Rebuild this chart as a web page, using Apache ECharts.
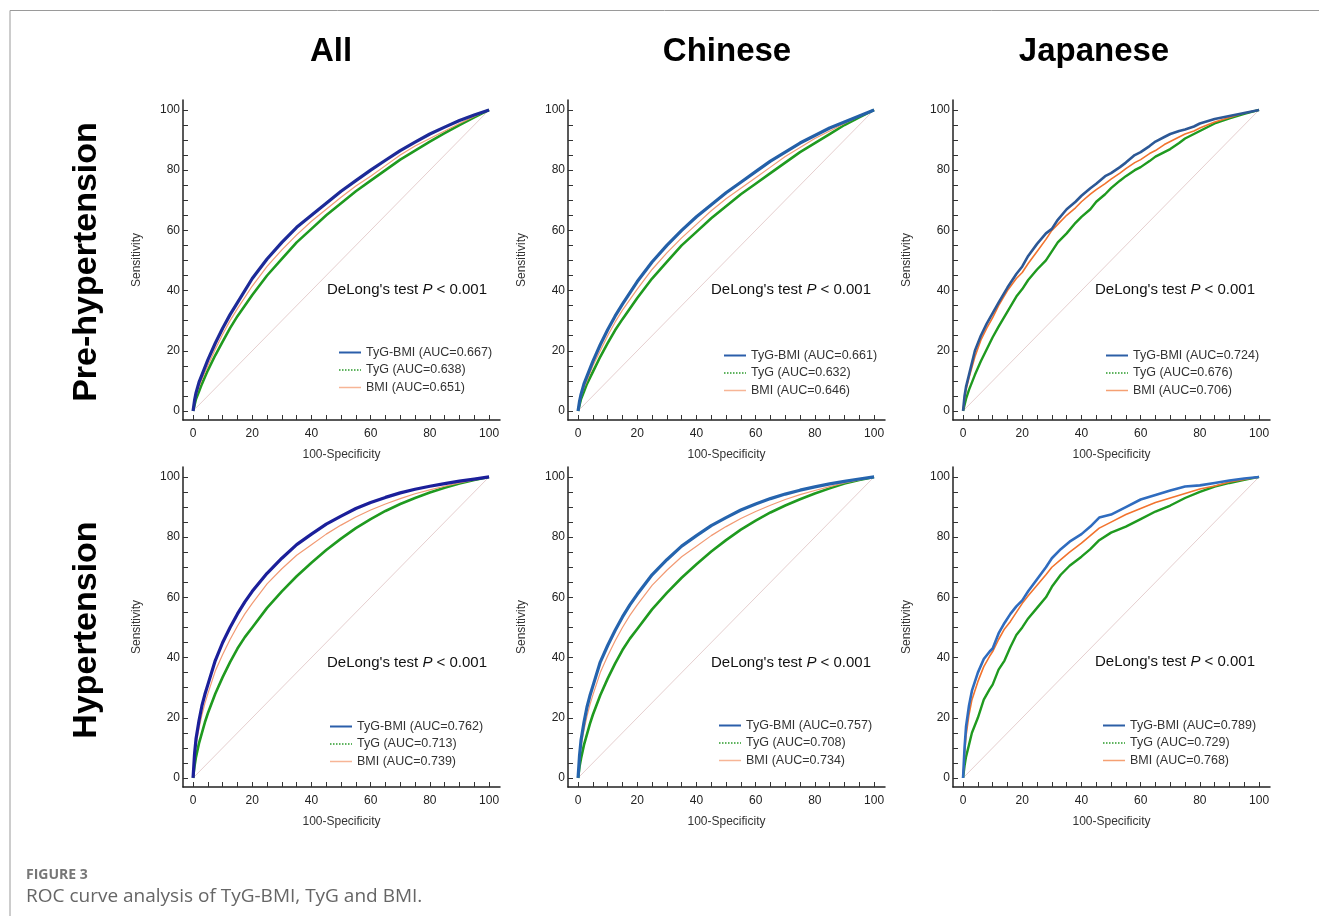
<!DOCTYPE html>
<html>
<head>
<meta charset="utf-8" />
<title>ROC curves</title>
<script src="https://cdn.jsdelivr.net/npm/echarts@6.0.0/dist/echarts.min.js"></script>
<style>
  html, body { margin: 0; padding: 0; background: #fff; }
  #main { width: 1319px; height: 916px; }
</style>
</head>
<body>
<div id="main"></div>
<script type="text/javascript">
// ---- labels ----
var columns = ['All', 'Chinese', 'Japanese'];
var rows = ['Pre-hypertension', 'Hypertension'];
var markers = ['TyG-BMI', 'TyG', 'BMI'];
var aucPre = [[0.667, 0.638, 0.651], [0.661, 0.632, 0.646], [0.724, 0.676, 0.706]];
var aucHyp = [[0.762, 0.713, 0.739], [0.757, 0.708, 0.734], [0.789, 0.729, 0.768]];
var labelTicks = [0, 20, 40, 60, 80, 100];
var minorTicks = [0, 5, 10, 15, 20, 25, 30, 35, 40, 45, 50, 55, 60, 65, 70, 75, 80, 85, 90, 95, 100];
var diagonal = [[0, 0], [100, 100]];

// ---- ROC curves, [100-specificity, sensitivity] ----
var allPreTygBmi = [[0,0],[0.5,3.5],[1,6],[2,9.5],[3,12],[4,14.5],[5,17],[7.5,22.5],[10,27.5],[12.5,32],[15,36],[20,44],[25,50.5],[30,56],[35,61],[40,65],[45,69],[50,73],[55,76.5],[60,80],[65,83.3],[70,86.5],[75,89.3],[80,92],[85,94.3],[90,96.5],[95,98.3],[100,100]];
var allPreTyg = [[0,0],[0.5,2],[1,4],[2,6.5],[3,9],[4,11.3],[5,13.5],[7.5,18.5],[10,23],[12.5,27.5],[15,31.5],[20,38.5],[25,45],[30,50.5],[35,56],[40,60.5],[45,65],[50,69],[55,73],[60,76.5],[65,80],[70,83.5],[75,86.5],[80,89.5],[85,92.3],[90,95],[95,97.5],[100,100]];
var allPreBmi = [[0,0],[0.5,2.8],[1,5],[2,8],[3,10.5],[4,12.8],[5,15],[7.5,20.5],[10,25.5],[12.5,30],[15,34],[20,41.5],[25,48],[30,53.5],[35,58.5],[40,63],[45,67],[50,71],[55,74.7],[60,78],[65,81.5],[70,85],[75,88],[80,90.5],[85,93],[90,95.5],[95,97.8],[100,100]];

var chnPreTygBmi = [[0,0],[0.5,3.2],[1,5.5],[2,9],[3,11.5],[4,14],[5,16.5],[7.5,22],[10,27],[12.5,31.5],[15,35.5],[20,43],[25,49.5],[30,55],[35,60],[40,64.5],[45,68.5],[50,72.5],[55,76],[60,79.5],[65,83],[70,86],[75,89],[80,91.5],[85,94],[90,96],[95,98],[100,100]];
var chnPreTyg = [[0,0],[0.5,2],[1,4],[2,6.5],[3,9],[4,11],[5,13],[7.5,18],[10,22.5],[12.5,26.8],[15,30.5],[20,37.5],[25,44],[30,49.5],[35,55],[40,59.5],[45,64],[50,68],[55,72],[60,75.5],[65,79],[70,82.5],[75,86],[80,89],[85,92],[90,95],[95,97.5],[100,100]];
var chnPreBmi = [[0,0],[0.5,2.8],[1,5],[2,7.8],[3,10],[4,12.5],[5,15],[7.5,20],[10,25],[12.5,29.5],[15,33.5],[20,40.5],[25,47],[30,52.5],[35,57.5],[40,62],[45,66.5],[50,70.5],[55,74],[60,77.5],[65,81],[70,84.5],[75,87.5],[80,90.5],[85,93],[90,95.5],[95,97.8],[100,100]];

var jpnPreTygBmi = [[0,0],[0.5,5],[1,8],[2,12],[4,20],[6,25],[8,29],[10,32.5],[12,36],[15,41],[18,45.5],[20,48],[22,51.5],[25,55.5],[28,59],[30,60.5],[32,63.5],[35,67],[38,69.5],[40,71.5],[43,74],[45,75.5],[48,78],[50,79],[53,81],[55,82.5],[58,85],[60,86],[63,88],[65,89.5],[68,91],[70,92],[73,93],[75,93.5],[78,94.5],[80,95.5],[85,97],[90,98],[95,99],[100,100]];
var jpnPreTyg = [[0,0],[0.5,2],[1,4],[2,7],[4,12],[6,16.5],[8,20.5],[10,24.5],[12,28],[15,33],[18,38],[20,40.5],[22,43.5],[25,47],[28,50],[30,53],[32,56],[35,59],[38,62.5],[40,64.5],[43,67],[45,69.5],[48,72],[50,74],[53,76.5],[55,78],[58,80],[60,81],[63,83],[65,84.5],[68,86],[70,87],[73,89],[75,90.5],[78,92],[80,93],[85,95.5],[90,97.2],[95,98.7],[100,100]];
var jpnPreBmi = [[0,0],[0.5,4],[1,7],[2,11],[4,18],[6,23.5],[8,27.5],[10,31],[12,35],[15,40],[18,44],[20,46],[22,49],[25,53],[28,57],[30,60],[32,62],[35,65],[38,67.5],[40,69.5],[43,72],[45,73.5],[48,75.5],[50,77],[53,79],[55,80.5],[58,82.5],[60,83.5],[63,85.5],[65,86.5],[68,88.5],[70,89.5],[73,91],[75,92],[78,93],[80,94],[85,96],[90,97.5],[95,99],[100,100]];

var allHypTygBmi = [[0,0],[0.5,8],[1,13],[2,19],[3,24],[4,27.8],[5,31],[7.5,39],[10,45],[12.5,50],[15,54.5],[17.5,58.5],[20,62],[25,68],[30,73],[35,77.5],[40,81],[45,84.3],[50,87],[55,89.5],[60,91.5],[65,93.2],[70,94.7],[75,95.9],[80,96.9],[85,97.8],[90,98.6],[95,99.3],[100,100]];
var allHypTyg = [[0,0],[0.5,4],[1,7],[2,11.5],[3,15],[4,18.5],[5,21.5],[7.5,28],[10,33.5],[12.5,38.5],[15,43],[17.5,46.8],[20,50],[25,56.5],[30,62],[35,67],[40,71.5],[45,75.7],[50,79.5],[55,83],[60,86],[65,88.7],[70,91],[75,93],[80,94.8],[85,96.4],[90,97.8],[95,99],[100,100]];
var allHypBmi = [[0,0],[0.5,6.5],[1,11],[2,16.5],[3,21],[4,24.8],[5,28],[7.5,35.5],[10,41],[12.5,46],[15,50.5],[17.5,54.5],[20,58],[25,64.5],[30,69.5],[35,74],[40,77.5],[45,81],[50,84],[55,86.7],[60,89],[65,91],[70,92.8],[75,94.4],[80,95.7],[85,96.9],[90,98],[95,99],[100,100]];

var chnHypTygBmi = [[0,0],[0.5,7.5],[1,12.5],[2,18.5],[3,23.5],[4,27.3],[5,30.5],[7.5,38.5],[10,44],[12.5,49],[15,53.5],[17.5,57.5],[20,61],[25,67.5],[30,72.5],[35,77],[40,80.5],[45,83.8],[50,86.5],[55,89],[60,91],[65,92.8],[70,94.3],[75,95.6],[80,96.7],[85,97.7],[90,98.5],[95,99.3],[100,100]];
var chnHypTyg = [[0,0],[0.5,3.8],[1,6.5],[2,11],[3,14.5],[4,18],[5,21],[7.5,27.5],[10,33],[12.5,38],[15,42.5],[17.5,46.3],[20,49.5],[25,56],[30,61.5],[35,66.5],[40,71],[45,75.2],[50,79],[55,82.5],[60,85.5],[65,88.2],[70,90.5],[75,92.6],[80,94.5],[85,96.2],[90,97.8],[95,99],[100,100]];
var chnHypBmi = [[0,0],[0.5,6.2],[1,10.5],[2,16],[3,20.5],[4,24.3],[5,27.5],[7.5,35],[10,40.5],[12.5,45.5],[15,50],[17.5,54],[20,57.5],[25,64],[30,69],[35,73.5],[40,77],[45,80.5],[50,83.5],[55,86.2],[60,88.5],[65,90.6],[70,92.5],[75,94.1],[80,95.5],[85,96.8],[90,98],[95,99],[100,100]];

var jpnHypTygBmi = [[0,0],[0.5,10],[1,17],[2,24],[3,29],[5,35],[7,39.5],[9,42],[10,43],[12,48],[14,51.5],[16,54.5],[18,57],[20,59],[22,62],[25,66],[28,70],[30,73],[33,76],[36,78.5],[40,81],[43,83.5],[46,86.5],[50,87.5],[55,90],[60,92.5],[65,94],[70,95.5],[75,96.8],[80,97.2],[85,98],[90,98.8],[95,99.5],[100,100]];
var jpnHypTyg = [[0,0],[0.5,4],[1,7],[2,11],[3,15],[5,20],[7,26],[9,29.5],[10,31],[12,36],[14,39],[16,43.5],[18,47.5],[20,50],[22,53],[25,56.5],[28,60],[30,63.5],[33,67.5],[36,70.5],[40,73.5],[43,76],[46,79],[50,81.5],[55,83.5],[60,86],[65,88.5],[70,90.5],[75,93],[80,95],[85,96.8],[90,98],[95,99],[100,100]];
var jpnHypBmi = [[0,0],[0.5,8],[1,14],[2,21],[3,26],[5,32],[7,37],[9,40.5],[10,42],[12,46],[14,49.5],[16,52],[18,55],[20,58],[22,60.5],[25,64],[28,67.5],[30,70],[33,72.5],[36,75],[40,78],[43,80.5],[46,83],[50,85],[55,87.5],[60,89.5],[65,91.5],[70,93],[75,94.5],[80,96],[85,97],[90,98.3],[95,99.2],[100,100]];

// ---- layout ----
var FONT = '"Liberation Sans", Arial, Helvetica, sans-serif';
var gridLefts = [183, 568, 953];
var gridTops = [100, 467];
var colCenters = [331, 727, 1094];
var rowCenters = [262, 630];

var panels = [
  { row: 0, col: 0, curves: [allPreTygBmi, allPreTyg, allPreBmi], auc: aucPre[0], blue: '#1d2a98', orange: '#f29a74', lw: [3.2, 2.6, 1.2], legend: [338, 346], delong: [327, 290] },
  { row: 0, col: 1, curves: [chnPreTygBmi, chnPreTyg, chnPreBmi], auc: aucPre[1], blue: '#2460a8', orange: '#f29a74', lw: [3.2, 2.6, 1.2], legend: [723, 349], delong: [711, 290] },
  { row: 0, col: 2, curves: [jpnPreTygBmi, jpnPreTyg, jpnPreBmi], auc: aucPre[2], blue: '#2c5896', orange: '#f2732e', lw: [2.6, 2.4, 1.6], legend: [1105, 349], delong: [1095, 290] },
  { row: 1, col: 0, curves: [allHypTygBmi, allHypTyg, allHypBmi], auc: aucHyp[0], blue: '#1b1f9a', orange: '#f29a74', lw: [3.2, 2.6, 1.2], legend: [329, 720], delong: [327, 663] },
  { row: 1, col: 1, curves: [chnHypTygBmi, chnHypTyg, chnHypBmi], auc: aucHyp[1], blue: '#2564ae', orange: '#f29a74', lw: [3.2, 2.6, 1.2], legend: [718, 719], delong: [711, 663] },
  { row: 1, col: 2, curves: [jpnHypTygBmi, jpnHypTyg, jpnHypBmi], auc: aucHyp[2], blue: '#2f6cbf', orange: '#f2732e', lw: [2.6, 2.4, 1.6], legend: [1102, 719], delong: [1095, 662] }
];

var GREEN = '#1f9a1f';

var grids = [], xAxes = [], yAxes = [], series = [], legends = [], graphics = [];

panels.forEach(function (p, i) {
  grids.push({ left: gridLefts[p.col], top: gridTops[p.row], width: 317, height: 320 });

  var axisCommon = {
    gridIndex: i,
    type: 'value',
    splitLine: { show: false },
    axisLine: { onZero: false, lineStyle: { color: '#222', width: 1.5 } },
    axisTick: { inside: true, length: 5, customValues: minorTicks, lineStyle: { color: '#333', width: 1 } },
    nameLocation: 'middle',
    nameTextStyle: { fontSize: 12, color: '#333', fontFamily: FONT }
  };
  xAxes.push(Object.assign({}, axisCommon, {
    min: -3.4, max: 103.7,
    name: '100-Specificity', nameGap: 29,
    axisLabel: { customValues: labelTicks, margin: 8, fontSize: 12, color: '#222', fontFamily: FONT }
  }));
  yAxes.push(Object.assign({}, axisCommon, {
    min: -3, max: 103.3,
    name: 'Sensitivity', nameGap: 40,
    axisLabel: { customValues: labelTicks, margin: 3, fontSize: 12, color: '#222', fontFamily: FONT }
  }));

  series.push({
    type: 'line', xAxisIndex: i, yAxisIndex: i, data: diagonal,
    symbol: 'none', silent: true, z: 1,
    lineStyle: { color: '#e6cfcf', width: 1 }
  });

  var names = markers.map(function (m, k) { return m + ' (AUC=' + p.auc[k].toFixed(3) + ')'; });
  var colors = [p.blue, GREEN, p.orange];
  var order = [1, 2, 0];
  order.forEach(function (k, j) {
    series.push({
      name: names[k], type: 'line', xAxisIndex: i, yAxisIndex: i,
      data: p.curves[k], symbol: 'none', smooth: false,
      z: 2 + j,
      color: colors[k],
      lineStyle: { color: colors[k], width: p.lw[k], join: 'round' }
    });
  });

  legends.push({
    orient: 'vertical', left: p.legend[0], top: p.legend[1], padding: 0,
    itemWidth: 22, itemHeight: 14, itemGap: 4.5,
    selectedMode: false,
    itemStyle: { opacity: 0 },
    textStyle: { fontSize: 12.5, color: '#333', fontFamily: FONT },
    data: [
      { name: names[0], lineStyle: { color: p.col === 2 ? '#2c5fa6' : '#2b5eaa', width: 2, type: 'solid' } },
      { name: names[1], lineStyle: { color: '#2a9a2a', width: 1.5, type: 'dotted' } },
      { name: names[2], lineStyle: { color: p.col === 2 ? '#f5a073' : '#f7b596', width: 1.5, type: 'solid' } }
    ]
  });

  graphics.push({
    type: 'text', x: p.delong[0], y: p.delong[1],
    style: {
      text: "{a|DeLong's test }{b|P}{a| < 0.001}",
      textVerticalAlign: 'middle',
      rich: {
        a: { fontSize: 15, fontFamily: FONT, fill: '#111' },
        b: { fontSize: 15, fontFamily: FONT, fontStyle: 'italic', fill: '#111' }
      }
    }
  });
});

columns.forEach(function (c, k) {
  graphics.push({
    type: 'text', x: colCenters[k], y: 52,
    style: { text: c, font: 'bold 33px ' + FONT, fill: '#000', textAlign: 'center', textVerticalAlign: 'middle' }
  });
});
rows.forEach(function (r, k) {
  graphics.push({
    type: 'text', x: 87, y: rowCenters[k], rotation: Math.PI / 2,
    style: { text: r, font: 'bold 34px ' + FONT, fill: '#000', textAlign: 'center', textVerticalAlign: 'middle' }
  });
});

// frame and caption
graphics.push({
  type: 'polyline', silent: true,
  shape: { points: [[10, 916], [10, 10.5], [1319, 10.5]] },
  style: { stroke: '#9a9a9a', lineWidth: 1, fill: null }
});
graphics.push({
  type: 'text', x: 26, y: 875,
  style: { text: 'FIGURE 3', font: 'bold 14px "Open Sans", Lato, sans-serif', fill: '#777', textVerticalAlign: 'middle' }
});
graphics.push({
  type: 'text', x: 26, y: 897,
  style: { text: 'ROC curve analysis of TyG-BMI, TyG and BMI.', font: '19px "Open Sans", Lato, sans-serif', fill: '#666', textVerticalAlign: 'middle' }
});

var myChart = echarts.init(document.getElementById('main'));
myChart.setOption({
  backgroundColor: '#fff',
  animation: false,
  grid: grids,
  xAxis: xAxes,
  yAxis: yAxes,
  legend: legends,
  series: series,
  graphic: graphics
});
</script>
</body>
</html>
